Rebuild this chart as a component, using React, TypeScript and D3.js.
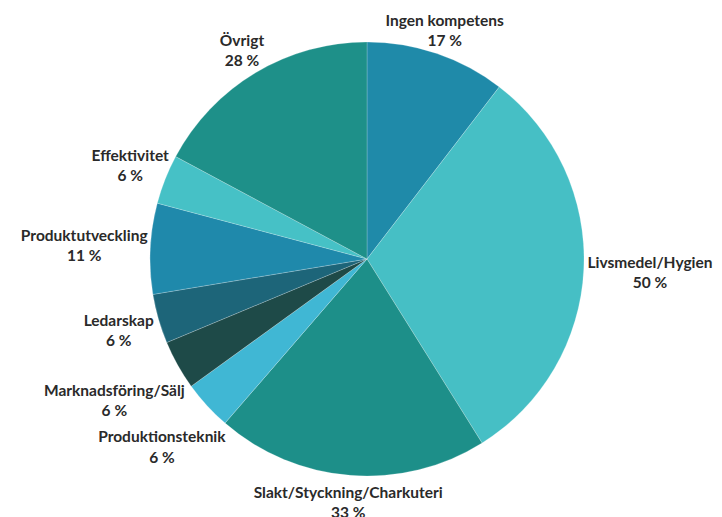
import React, { useEffect, useRef } from "react";
import * as d3 from "d3";

const categories = [
  "Ingen kompetens",
  "Livsmedel/Hygien",
  "Slakt/Styckning/Charkuteri",
  "Produktionsteknik",
  "Marknadsföring/Sälj",
  "Ledarskap",
  "Produktutveckling",
  "Effektivitet",
  "Övrigt",
];
const values = [17, 50, 33, 6, 6, 6, 11, 6, 28];
const colors = [
  "#1f8aa9",
  "#46bfc5",
  "#1d8f89",
  "#40b7d4",
  "#1e4a48",
  "#1d6579",
  "#1f89ab",
  "#46c1c6",
  "#1e9089",
];

const W = 722;
const H = 517;
const CX = 367;
const CY = 259;
const R = 217;
const GAP = 3;
const FS = 15.5;
const LINE = 20.5;

export default function App() {
  const ref = useRef<SVGSVGElement>(null);

  useEffect(() => {
    const svg = d3.select(ref.current);
    svg.selectAll("*").remove();
    const data = categories.map((c, i) => ({ c, v: values[i], col: colors[i] }));
    const pie = d3.pie<any>().value((d) => d.v).sort(null);
    const arcs = pie(data);
    const arc = d3.arc<any>().innerRadius(0).outerRadius(R);
    const g = svg.append("g").attr("transform", `translate(${CX},${CY})`);
    g.selectAll("path")
      .data(arcs)
      .enter()
      .append("path")
      .attr("d", arc as any)
      .attr("fill", (d: any) => d.data.col)
      .attr("stroke", "rgba(255,255,255,0.35)")
      .attr("stroke-width", 0.6);

    const lg = g.append("g");
    arcs.forEach((a: any) => {
      const mid = (a.startAngle + a.endAngle) / 2;
      const s = Math.sin(mid);
      const c = -Math.cos(mid);
      const t = lg
        .append("text")
        .attr("text-anchor", "middle")
        .attr("font-family", "Lato, 'Open Sans', sans-serif")
        .attr("font-weight", 700)
        .attr("font-size", FS)
        .attr("fill", "#2a2a2a");
      const l1 = t.append("tspan").attr("x", 0).attr("y", 0).text(a.data.c);
      const l2 = t.append("tspan").attr("x", 0).attr("y", LINE).text(`${a.data.v} %`);
      const w1 = (l1.node() as SVGTSpanElement).getComputedTextLength() / 2;
      const w2 = (l2.node() as SVGTSpanElement).getComputedTextLength() / 2;
      const hh = FS * 0.42;
      const y1 = -FS * 0.36;
      const y2 = LINE - FS * 0.36;
      const ym = (y1 + y2) / 2;
      const lines = [
        { y: y1 - ym, w: w1 },
        { y: y2 - ym, w: w2 },
      ];
      const minProj = d3.min(lines, (l) => l.y * c - l.w * Math.abs(s) - hh * Math.abs(c)) as number;
      const r = R + GAP - minProj;
      const lx = s * r;
      const ly = c * r;
      t.attr("transform", `translate(${lx},${ly - ym})`);
    });
  }, []);

  return (
    <svg
      ref={ref}
      width={W}
      height={H}
      style={{ position: "absolute", left: 0, top: 0, background: "#fff" }}
    />
  );
}
